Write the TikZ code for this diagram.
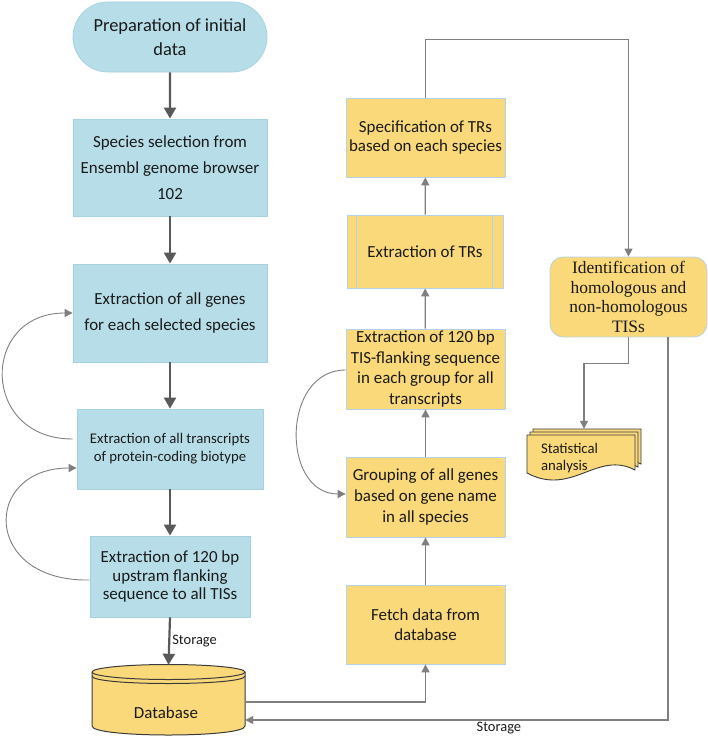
\documentclass[tikz,border=0pt]{standalone}
\usepackage{fontspec}
\setmainfont{Carlito}
\newfontfamily\tnr{Liberation Serif}
\usetikzlibrary{arrows.meta,shapes.misc,calc}
\definecolor{bfill}{HTML}{B7DEE8}
\definecolor{bline}{HTML}{A6D2E0}
\definecolor{yfill}{HTML}{FAD97A}
\definecolor{yline}{HTML}{B4D2EA}
\definecolor{dgray}{HTML}{595959}
\definecolor{mgray}{HTML}{7F7F7F}
\definecolor{txt}{HTML}{1A1A1A}
\definecolor{outl}{HTML}{3A3A3A}
\newcommand\mydoc[2]{%
  \begin{scope}[shift={(#1,#2)}]
    \filldraw[fill=yfill, draw=outl, line width=0.9bp]
      (0,0) -- (108,0) -- (108,35) .. controls (70,15) and (45,62) .. (0,38) -- cycle;
  \end{scope}}
\begin{document}
\begin{tikzpicture}[x=1bp,y=-1bp,
  bbox/.style={draw=bline, line width=0.8bp, fill=bfill, align=center, inner sep=0pt, text=txt},
  ybox/.style={draw=yline, line width=0.8bp, fill=yfill, align=center, inner sep=0pt, text=txt},
  thickarr/.style={draw=dgray, line width=2.2bp, -{Triangle[length=11bp,width=12bp]}},
  thinarr/.style={draw=mgray, line width=1.3bp, -{Triangle[length=8bp,width=8bp]}},
  curvarr/.style={draw=mgray, line width=0.9bp, -{Triangle[length=8bp,width=8bp]}},
  lbl/.style={text=txt, font=\fontsize{14.5}{17}\selectfont, inner sep=1bp}]
\useasboundingbox (0,0) rectangle (708,737);

% left column
\node[bbox, rounded rectangle, minimum width=194bp, minimum height=70bp,
  font=\fontsize{18.5}{24}\selectfont] (prep) at (170,37) {Preparation of initial\\data};
\node[bbox, minimum width=194bp, minimum height=97bp,
  font=\fontsize{17}{26}\selectfont] (sel) at (170,167.5) {Species selection from\\Ensembl genome browser\\102};
\node[bbox, minimum width=194bp, minimum height=98bp,
  font=\fontsize{17}{27}\selectfont] (genes) at (170,313) {Extraction of all genes\\for each selected species};
\node[bbox, minimum width=186bp, minimum height=80bp,
  font=\fontsize{14.8}{18}\selectfont] (trans) at (170,449) {Extraction of all transcripts\\of protein-coding biotype};
\node[bbox, minimum width=160bp, minimum height=81bp,
  font=\fontsize{17}{18.5}\selectfont] (up120) at (170,576.5) {Extraction of 120 bp\\upstram flanking\\sequence to all TISs};

% database cylinder
\node[minimum width=153bp, minimum height=70bp, inner sep=0pt] (db) at (168.5,700) {};
\fill[yfill] (92,672) -- (92,726) .. controls (92,738) and (245,738) .. (245,726) -- (245,672) -- cycle;
\fill[yfill] (168.5,672) ellipse [x radius=76.5, y radius=7.5];
\draw[outl, line width=1bp] (92,672) -- (92,726) .. controls (92,738) and (245,738) .. (245,726) -- (245,672);
\draw[outl, line width=1bp] (168.5,672) ellipse [x radius=76.5, y radius=7.5];
\draw[outl, line width=1bp] (92,676) .. controls (92,686) and (245,686) .. (245,676);
\node[text=txt, font=\fontsize{17}{20}\selectfont] (dbtext) at (166,713) {Database};

% middle column
\node[ybox, minimum width=159bp, minimum height=79bp,
  font=\fontsize{17}{20}\selectfont] (spectr) at (425.5,137.5) {Specification of TRs\\based on each species};
\node[ybox, minimum width=156bp, minimum height=73bp,
  font=\fontsize{17}{20}\selectfont] (exttr) at (425,251.5) {Extraction of TRs};
\draw[yline, line width=0.8bp] ($(exttr.north west)+(10,0)$) -- ($(exttr.south west)+(10,0)$);
\draw[yline, line width=0.8bp] ($(exttr.north east)+(-11,0)$) -- ($(exttr.south east)+(-11,0)$);
\node[ybox, minimum width=159bp, minimum height=80bp,
  font=\fontsize{17}{20.7}\selectfont] (tis) at (425.5,369) {Extraction of 120 bp\\TIS-flanking sequence\\in each group for all\\transcripts};
\node[ybox, minimum width=159bp, minimum height=80bp,
  font=\fontsize{17}{20.7}\selectfont] (group) at (425.5,497) {Grouping of all genes\\based on gene name\\in all species};
\node[ybox, minimum width=159bp, minimum height=79bp,
  font=\fontsize{17}{20.7}\selectfont] (fetch) at (425.5,624.5) {Fetch data from\\database};

% right column
\node[ybox, rounded corners=13bp, minimum width=157bp, minimum height=80bp,
  font=\tnr\fontsize{17.5}{19.5}\selectfont] (ident) at (628.5,297) {Identification of\\homologous and\\non-homologous\\TISs};

% statistical analysis (multi-document)
\mydoc{533}{429}
\mydoc{530}{432}
\mydoc{527}{435}
\node[minimum width=114bp, minimum height=58bp, inner sep=0pt, text width=86bp, align=left,
  text=txt, font=\fontsize{14.8}{16.5}\selectfont] (stat) at (584,458) {Statistical\\analysis};

% connectors, left column
\draw[thickarr] (prep) -- (sel);
\draw[thickarr] (sel) -- (genes);
\draw[thickarr] (genes) -- (trans);
\draw[thickarr] (trans) -- (up120);
\draw[thickarr] (up120.south) -- node[lbl, right, xshift=1bp] {Storage} (db.north);

\draw[curvarr] ($(trans.west)+(-4,-10)$) .. controls (-20,439) and (-20,313) .. (genes.west);
\draw[curvarr] ($(up120.west)+(0,3.5)$) .. controls (-18,582) and (-18,468) .. ($(trans.west)+(0,19)$);
\draw[curvarr] ($(tis.west)+(0,1)$) .. controls (281,370) and (281,494) .. ($(group.west)+(0,-3)$);

% middle column
\draw[thinarr] ([yshift=-2bp]db.east) -| (fetch.south);
\draw[thinarr] (fetch) -- (group);
\draw[thinarr] (group) -- (tis);
\draw[thinarr] (tis) -- (exttr);
\draw[thinarr] (exttr) -- (spectr);
\draw[thinarr] (spectr.north) |- ++(0,-58) -| (ident.north);
\draw[thinarr] (ident.south) |- ++(0,26) -| (stat.north);
\draw[thinarr] ([xshift=39.5bp]ident.south) |- node[lbl, below, pos=0.70] {Storage} ([yshift=-20bp]db.east);
\end{tikzpicture}
\end{document}
